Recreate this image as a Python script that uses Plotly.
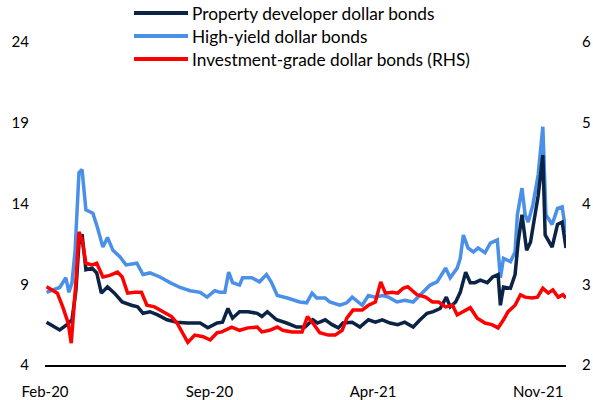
import plotly.graph_objects as go

# ---- data ----
hy_dates = ["2020-02-03","2020-02-20","2020-02-28","2020-03-03","2020-03-07","2020-03-11","2020-03-16","2020-03-20",
            "2020-03-25","2020-04-03","2020-04-09","2020-04-16","2020-04-22","2020-04-29","2020-05-08","2020-05-16",
            "2020-05-30","2020-06-07","2020-06-16","2020-06-29","2020-07-12","2020-07-25","2020-08-07","2020-08-20",
            "2020-08-29","2020-09-08","2020-09-15","2020-09-21","2020-09-26","2020-10-01","2020-10-10","2020-10-14",
            "2020-10-26","2020-11-05","2020-11-14","2020-11-20","2020-11-28","2020-12-11","2020-12-27","2021-01-05",
            "2021-01-12","2021-01-18","2021-01-29","2021-02-04","2021-02-17","2021-02-26","2021-03-05","2021-03-18",
            "2021-03-26","2021-04-04","2021-04-13","2021-04-21","2021-05-02","2021-05-12","2021-05-23","2021-06-05",
            "2021-06-14","2021-06-23","2021-07-04","2021-07-10","2021-07-19","2021-07-23","2021-07-27","2021-08-02",
            "2021-08-09","2021-08-15","2021-08-24","2021-08-31","2021-09-09","2021-09-13","2021-09-17","2021-09-26",
            "2021-10-02","2021-10-05","2021-10-11","2021-10-15","2021-10-19","2021-10-25","2021-11-01","2021-11-07",
            "2021-11-11","2021-11-19","2021-11-26","2021-12-02","2021-12-07"]
hy_vals = [8.5, 8.8, 9.4, 8.5, 9.1, 11.1, 15.9, 16.1,
           13.6, 13.4, 12.5, 11.3, 11.9, 11.1, 10.7, 10.2,
           10.3, 9.6, 9.7, 9.45, 9.1, 8.8, 8.6, 8.5,
           8.2, 8.6, 8.5, 8.5, 9.75, 9.1, 8.95, 9.4,
           9.4, 9.15, 9.6, 9.15, 8.3, 8.15, 7.9, 7.85,
           8.45, 8.15, 8.15, 7.9, 7.7, 7.85, 8.2, 7.7,
           8.3, 8.2, 8.3, 8.2, 7.9, 8.0, 7.9, 8.5,
           8.95, 9.15, 10.0, 9.4, 10.0, 10.6, 12.05, 11.25,
           11.0, 11.25, 10.95, 11.55, 11.75, 9.4, 10.6, 10.4,
           11.0, 13.3, 14.95, 13.3, 12.85, 13.9, 15.8, 18.75,
           13.3, 12.7, 13.7, 13.8, 12.2]

pd_dates = ["2020-02-03","2020-02-20","2020-02-29","2020-03-07","2020-03-12","2020-03-16","2020-03-20","2020-03-25",
            "2020-04-02","2020-04-08","2020-04-14","2020-04-22","2020-05-01","2020-05-11","2020-05-23","2020-05-31",
            "2020-06-07","2020-06-16","2020-06-26","2020-07-08","2020-07-21","2020-08-03","2020-08-20","2020-08-30",
            "2020-09-11","2020-09-18","2020-09-25","2020-10-01","2020-10-10","2020-10-21","2020-11-02","2020-11-08",
            "2020-11-15","2020-11-27","2020-12-10","2020-12-23","2021-01-03","2021-01-13","2021-01-19","2021-01-29",
            "2021-02-07","2021-02-15","2021-02-21","2021-03-05","2021-03-15","2021-03-26","2021-04-04","2021-04-13",
            "2021-04-23","2021-05-03","2021-05-12","2021-05-23","2021-06-01","2021-06-10","2021-06-18","2021-06-27",
            "2021-07-05","2021-07-10","2021-07-17","2021-07-23","2021-07-30","2021-08-05","2021-08-11","2021-08-18",
            "2021-08-27","2021-09-03","2021-09-10","2021-09-13","2021-09-17","2021-09-26","2021-10-02","2021-10-06",
            "2021-10-11","2021-10-17","2021-10-22","2021-10-25","2021-11-01","2021-11-07","2021-11-10","2021-11-19",
            "2021-11-26","2021-12-02","2021-12-07"]
pd_vals = [6.65, 6.17, 6.48, 6.8, 8.6, 11.5, 12.1, 9.9,
           10.0, 9.7, 8.45, 8.83, 8.45, 7.9, 7.7, 7.6,
           7.2, 7.3, 7.1, 6.8, 6.65, 6.6, 6.6, 6.3,
           6.6, 6.65, 7.5, 6.9, 7.3, 7.3, 7.2, 7.0,
           7.3, 6.8, 6.6, 6.35, 6.35, 6.8, 6.6, 6.8,
           6.5, 6.3, 6.6, 6.65, 6.35, 6.8, 6.65, 6.8,
           6.6, 6.5, 6.65, 6.35, 6.8, 7.2, 7.3, 7.5,
           8.2, 7.6, 7.9, 8.5, 9.75, 9.1, 9.1, 9.25,
           9.1, 9.45, 9.6, 7.7, 8.83, 8.75, 9.6, 11.6,
           13.3, 11.1, 11.6, 12.5, 14.5, 17.0, 12.05, 11.3,
           12.7, 12.85, 11.25]

ig_dates = ["2020-02-03","2020-02-11","2020-02-17","2020-02-24","2020-03-02","2020-03-06","2020-03-10","2020-03-12",
            "2020-03-16","2020-03-20","2020-03-25","2020-04-02","2020-04-08","2020-04-16","2020-04-25","2020-05-05",
            "2020-05-11","2020-05-18","2020-05-27","2020-06-05","2020-06-12","2020-06-22","2020-07-03","2020-07-14",
            "2020-07-21","2020-07-27","2020-08-04","2020-08-13","2020-08-24","2020-09-02","2020-09-11","2020-09-17",
            "2020-09-30","2020-10-10","2020-10-21","2020-11-02","2020-11-08","2020-11-18","2020-11-28","2020-12-05",
            "2020-12-17","2020-12-30","2021-01-06","2021-01-13","2021-01-22","2021-02-02","2021-02-11","2021-02-20",
            "2021-02-26","2021-03-06","2021-03-18","2021-03-26","2021-04-04","2021-04-11","2021-04-17","2021-04-26",
            "2021-05-03","2021-05-10","2021-05-16","2021-05-28","2021-06-08","2021-06-17","2021-06-25","2021-07-04",
            "2021-07-13","2021-07-19","2021-07-27","2021-08-05","2021-08-14","2021-08-24","2021-09-02","2021-09-10",
            "2021-09-17","2021-09-23","2021-10-02","2021-10-09","2021-10-15","2021-10-24","2021-10-31","2021-11-07",
            "2021-11-14","2021-11-20","2021-11-27","2021-12-03","2021-12-07"]
ig_vals = [2.97, 2.93, 2.89, 2.72, 2.52, 2.27, 2.72, 3.02,
           3.65, 3.55, 3.26, 3.24, 3.26, 3.09, 3.11, 3.15,
           3.09, 2.89, 2.9, 2.9, 2.74, 2.72, 2.66, 2.6,
           2.52, 2.41, 2.28, 2.37, 2.35, 2.31, 2.4, 2.41,
           2.47, 2.43, 2.46, 2.47, 2.41, 2.43, 2.47, 2.43,
           2.41, 2.41, 2.6, 2.52, 2.4, 2.37, 2.37, 2.43,
           2.58, 2.68, 2.68, 2.74, 2.78, 3.03, 2.89, 2.9,
           2.89, 2.95, 2.97, 2.87, 2.84, 2.78, 2.78, 2.72,
           2.74, 2.62, 2.66, 2.71, 2.58, 2.52, 2.5, 2.46,
           2.56, 2.66, 2.74, 2.87, 2.84, 2.83, 2.84, 2.95,
           2.89, 2.93, 2.84, 2.87, 2.83]

series_names = ["Property developer dollar bonds", "High-yield dollar bonds",
                "Investment-grade dollar bonds (RHS)"]
left_ticks = [4, 9, 14, 19, 24]
right_ticks = [2, 3, 4, 5, 6]
x_ticks = ["2020-02-01", "2020-09-01", "2021-04-01", "2021-11-01"]
x_tick_labels = ["Feb-20", "Sep-20", "Apr-21", "Nov-21"]

NAVY = "#0B2345"
BLUE = "#4A8FE8"
RED = "#FF0000"
FONT = "Lato"

W, H = 593, 400
ML, MR, MT, MB = 45, 27, 42, 35
PW, PH = W - ML - MR, H - MT - MB

fig = go.Figure()
fig.add_trace(go.Scatter(x=hy_dates, y=hy_vals, mode="lines", name=series_names[1],
                         line=dict(color=BLUE, width=3.5), showlegend=False))
fig.add_trace(go.Scatter(x=pd_dates, y=pd_vals, mode="lines", name=series_names[0],
                         line=dict(color=NAVY, width=3.5), showlegend=False))
fig.add_trace(go.Scatter(x=ig_dates, y=ig_vals, mode="lines", name=series_names[2], yaxis="y2",
                         line=dict(color=RED, width=3.5), showlegend=False))

# manual legend (long line symbols as in the reference); positions in window pixels
legend_colors = [NAVY, BLUE, RED]
legend_y = [13, 36, 59]
shapes = []
annotations = []
for name, col, yy in zip(series_names, legend_colors, legend_y):
    yp = (H - MB - yy) / PH
    shapes.append(dict(type="line", xref="paper", yref="paper",
                       x0=(134 - ML) / PW, x1=(188 - ML) / PW, y0=yp, y1=yp,
                       line=dict(color=col, width=4)))
    annotations.append(dict(xref="paper", yref="paper", x=(190 - ML) / PW, y=yp,
                            text=name, showarrow=False, xanchor="left", yanchor="middle",
                            font=dict(family=FONT, size=17.3, color="#000000")))

fig.update_layout(
    width=W, height=H,
    margin=dict(l=ML, r=MR, t=MT, b=MB, autoexpand=False),
    paper_bgcolor="white", plot_bgcolor="white",
    font=dict(family=FONT, size=15, color="#000000"),
    shapes=shapes, annotations=annotations,
    xaxis=dict(type="date", range=["2020-02-01", "2021-12-07"], automargin=False,
               tickvals=x_ticks, ticktext=x_tick_labels, showgrid=False, zeroline=False,
               showline=True, linecolor="#000000", linewidth=1.5, ticks="",
               ticklabelstandoff=12),
    yaxis=dict(range=[4, 24], tickvals=left_ticks, showgrid=False, zeroline=False, automargin=False,
               showline=False, ticks="", ticklabelstandoff=15),
    yaxis2=dict(range=[2, 6], tickvals=right_ticks, overlaying="y", side="right", automargin=False,
                showgrid=False, zeroline=False, showline=False, ticks="", ticklabelstandoff=15),
)

# remove the page's default 8px body margin so the 593x400 figure fills the window exactly
fig.write_html("out.html", config={"displayModeBar": False},
               post_script="document.body.style.margin='0';document.body.style.overflow='hidden';")
